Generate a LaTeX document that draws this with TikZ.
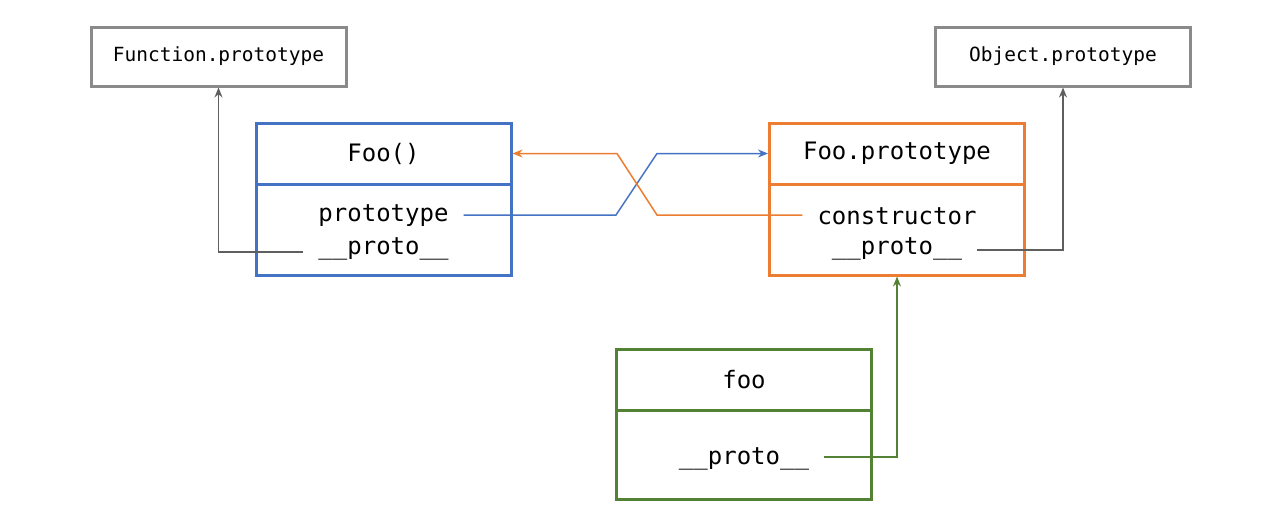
\documentclass[tikz,border=0pt]{standalone}
\usepackage{fontspec}
\setmonofont{DejaVu Sans Mono}
\usepackage{tikz}
\usetikzlibrary{arrows.meta, calc}
\definecolor{fooblue}{HTML}{4472C4}
\definecolor{fooorange}{HTML}{ED7D31}
\definecolor{foogreen}{HTML}{548235}
\definecolor{boxgray}{HTML}{8A8A8A}
\definecolor{linegray}{HTML}{5F5F5F}
\tikzset{
    protobox/.style={draw=boxgray, line width=3pt, minimum width=255pt, minimum height=59pt, font=\fontsize{19.5}{20}\selectfont\ttfamily},
    headbox/.style={draw=#1, line width=3pt, minimum width=255pt, minimum height=61pt, font=\fontsize{24}{26}\selectfont\ttfamily},
    bodybox/.style 2 args={draw=#1, line width=3pt, minimum width=255pt, minimum height=#2},
    field/.style={inner xsep=15pt, inner ysep=0pt, font=\fontsize{24}{26}\selectfont\ttfamily},
    link/.style={draw=#1, line width=1.5pt, -{Stealth[length=10pt,width=8pt]}}
}
\begin{document}
\begin{tikzpicture}[x=1pt, y=-1pt]
                    \useasboundingbox (0,0) rectangle (1275,530);

                    \node[protobox] (fp) at (218.5,56.5) {Function.prototype};
                    \node[protobox] (op) at (1063,56.5) {Object.prototype};

                    \node[headbox=fooblue] (foo) at (383.5,153.5) {Foo()};
                    \node[bodybox={fooblue}{91pt}] (foob) at (383.5,229.5) {};
                    \node[field] (foopt) at (383.5,216) {prototype};
                    \node[field] (fooproto) at (383.5,248.5) {\_\_proto\_\_};

                    \node[headbox=fooorange] (fpt) at (897,153.5) {Foo.prototype};
                    \node[bodybox={fooorange}{91pt}] (fptb) at (897,229.5) {};
                    \node[field] (fptc) at (897,216) {constructor};
                    \node[field] (fptproto) at (897,248.5) {\_\_proto\_\_};

                    \node[headbox=foogreen] (obj) at (744,379.5) {foo};
                    \node[bodybox={foogreen}{89pt}] (objb) at (744,454.5) {};
                    \node[field] (objproto) at (744,459) {\_\_proto\_\_};

                    \draw[link=linegray] ([yshift=-3.5pt]fooproto.west) -| (fp.south);
                    \draw[link=linegray] ([yshift=-1.5pt]fptproto.east) -| (op.south);
                    \draw[link=fooblue] ([yshift=1pt]foopt.east) -- (616,215) -- (657,153.5) -- (fpt.west);
                    \draw[link=fooorange] ([yshift=1pt]fptc.west) -- (657,215) -- (617,153.5) -- (foo.east);
                    \draw[link=foogreen] ([yshift=2pt]objproto.east) -| (fptb.south);
                \end{tikzpicture}
\end{document}
